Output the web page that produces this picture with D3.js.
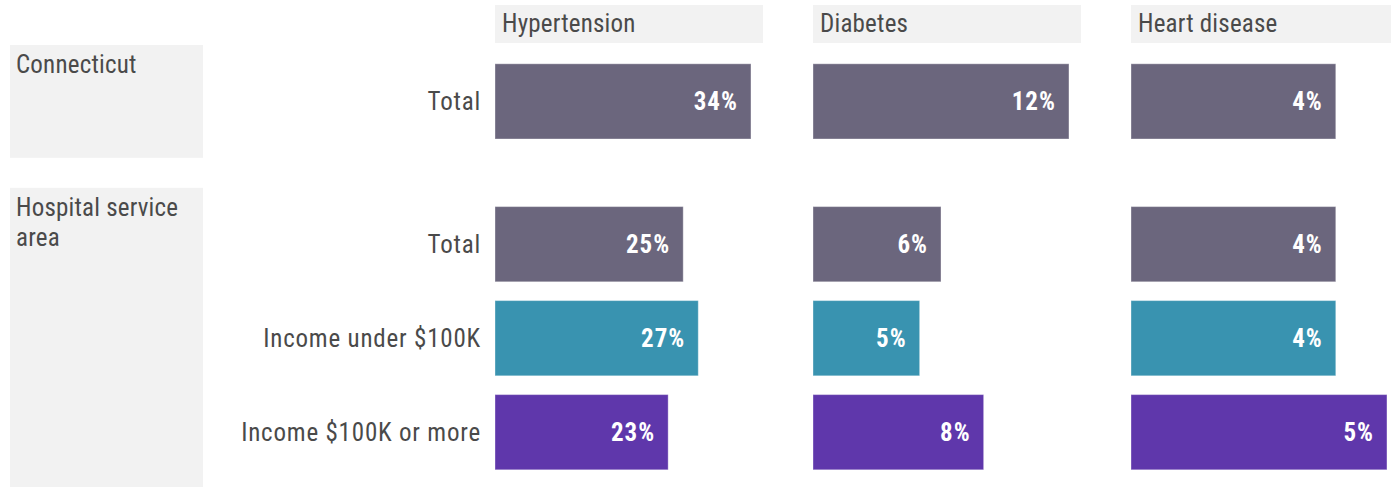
<!DOCTYPE html>
<html>
<head>
<meta charset="utf-8">
<script src="https://cdn.jsdelivr.net/npm/d3@7"></script>
<style>
  html, body { margin: 0; padding: 0; background: #ffffff; }
  svg { display: block; }
  text { font-family: "Roboto Condensed", "Liberation Sans Narrow", "Roboto", sans-serif; }
</style>
</head>
<body>
<svg id="chart" width="1391" height="487"></svg>
<script>
// Share of adults with each chronic condition, by area and income
const conditions = ["Hypertension", "Diabetes", "Heart disease"];
const groups = ["Connecticut", "Hospital service area"];
const rowGroup = ["Connecticut", "Hospital service area", "Hospital service area", "Hospital service area"];
const rowLabels = ["Total", "Total", "Income under $100K", "Income $100K or more"];
const rowKind = ["total", "total", "under", "over"];
const hypertension = [34, 25, 27, 23];
const diabetes = [12, 6, 5, 8];
const heartDisease = [4, 4, 4, 5];
const seriesByCondition = [hypertension, diabetes, heartDisease];

const colors = { total: "#6b667d", under: "#3993b0", over: "#5f37ab" };
const panelBg = "#f2f2f2";
const textColor = "#4a4a4a";

const svg = d3.select("#chart");

// layout
const facetLeft = 495, facetWidth = 268, facetGap = 50;
const stripTop = 5, stripHeight = 38;
const groupTop = 45, groupGap = 30;
const rowStep = 94;
const groupBoxX = 10, groupBoxW = 193;

const facetX = d3.scaleBand()
  .domain(conditions)
  .range([facetLeft, facetLeft + 3 * facetWidth + 2 * facetGap])
  .paddingInner(facetGap / (facetWidth + facetGap));

// one band scale per group, stacked vertically
const yScales = {};
let cursor = groupTop;
groups.forEach(g => {
  const rows = rowLabels.map((l, i) => i).filter(i => rowGroup[i] === g);
  const h = rowStep * (rows.length - 0.2 + 0.4);
  yScales[g] = d3.scaleBand().domain(rows).range([cursor, cursor + h]).paddingInner(0.2).paddingOuter(0.2);
  cursor += h + groupGap;
});

// group boxes
groups.forEach(g => {
  const [y0, y1] = yScales[g].range();
  svg.append("rect").attr("x", groupBoxX).attr("y", y0).attr("width", groupBoxW).attr("height", y1 - y0).attr("fill", panelBg);
  const t = svg.append("text").attr("x", groupBoxX + 6).attr("y", y0 + 28)
    .attr("fill", textColor).attr("font-size", 25).attr("letter-spacing", 0.2);
  const words = g === "Hospital service area" ? ["Hospital service", "area"] : [g];
  words.forEach((w, k) => t.append("tspan").attr("x", groupBoxX + 6).attr("dy", k === 0 ? 0 : 30).text(w));
});

// row labels
rowLabels.forEach((lab, i) => {
  const y = yScales[rowGroup[i]];
  svg.append("text")
    .attr("x", facetLeft - 14)
    .attr("y", y(i) + y.bandwidth() / 2)
    .attr("dy", "0.35em")
    .attr("text-anchor", "end")
    .attr("fill", textColor)
    .attr("font-size", 25)
    .attr("letter-spacing", 0.8)
    .text(lab);
});

// facets
conditions.forEach((c, ci) => {
  const x0 = facetX(c);
  const values = seriesByCondition[ci];
  const x = d3.scaleLinear().domain([0, d3.max(values) * 1.047]).range([0, facetWidth]);
  const g = svg.append("g").attr("transform", `translate(${x0},0)`);

  g.append("rect").attr("x", 0).attr("y", stripTop).attr("width", facetWidth).attr("height", stripHeight).attr("fill", panelBg);
  g.append("text").attr("x", 7).attr("y", stripTop + stripHeight / 2 - 1).attr("dy", "0.35em")
    .attr("fill", textColor).attr("font-size", 25).attr("letter-spacing", 0.2).text(c);

  values.forEach((v, i) => {
    const y = yScales[rowGroup[i]];
    g.append("rect")
      .attr("x", x(0)).attr("y", y(i))
      .attr("width", x(v) - x(0)).attr("height", y.bandwidth())
      .attr("fill", colors[rowKind[i]])
      .attr("stroke", "rgba(255,255,255,0.35)").attr("stroke-width", 1);
    g.append("text")
      .attr("x", x(v) - 13)
      .attr("y", y(i) + y.bandwidth() / 2)
      .attr("dy", "0.35em")
      .attr("text-anchor", "end")
      .attr("fill", "#ffffff")
      .attr("font-weight", 700)
      .attr("font-size", 25)
      .attr("letter-spacing", 1)
      .text(v + "%");
  });
});
</script>
</body>
</html>
